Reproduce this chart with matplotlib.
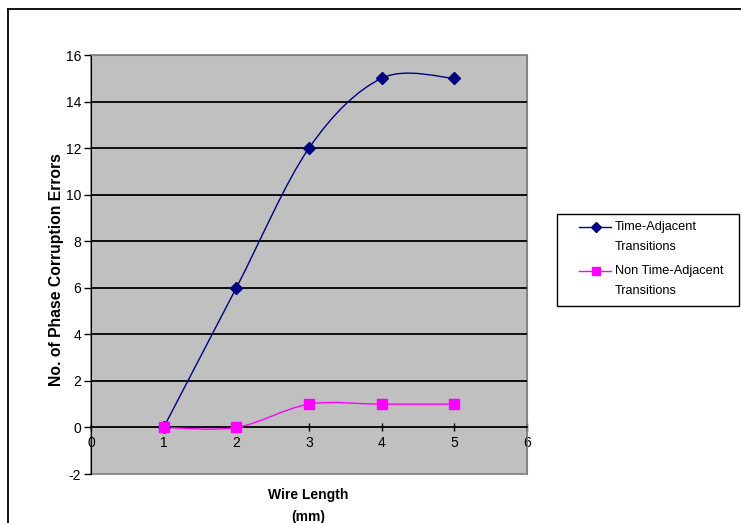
import matplotlib
matplotlib.use("Agg")
import matplotlib.pyplot as plt
from matplotlib.path import Path
from matplotlib.patches import PathPatch, Rectangle
from matplotlib.lines import Line2D
import numpy as np

plt.rcParams['font.family'] = ['Liberation Sans', 'DejaVu Sans']
plt.rcParams['axes.unicode_minus'] = False

wire_length = [1, 2, 3, 4, 5]
time_adjacent = [0, 6, 12, 15, 15]
non_time_adjacent = [0, 0, 1, 1, 1]
x_ticks = [0, 1, 2, 3, 4, 5, 6]
y_ticks = [-2, 0, 2, 4, 6, 8, 10, 12, 14, 16]
series_names = ["Time-Adjacent\nTransitions", "Non Time-Adjacent\nTransitions"]

W, H = 741, 523
fig = plt.figure(figsize=(W / 100, H / 100), dpi=100)
fig.patch.set_facecolor('white')


def fx(px):
    return px / W


def fy(py):
    return 1 - py / H


# figure border (left and top visible)
fig.add_artist(Line2D([fx(8), fx(8)], [0, fy(9)], transform=fig.transFigure, color='black', lw=1.3))
fig.add_artist(Line2D([fx(8), 1], [fy(9), fy(9)], transform=fig.transFigure, color='black', lw=1.3))

left, right, top, bottom = 91, 527, 55, 474
ax = fig.add_axes([fx(left), fy(bottom), (right - left) / W, (bottom - top) / H])
ax.set_facecolor('#C0C0C0')
ax.set_xlim(0, 6)
ax.set_ylim(-2, 16)

for y in y_ticks:
    if -2 < y < 16 and y != 0:
        ax.axhline(y, color='black', lw=1.3, zorder=1)

ax.spines['top'].set_color('#808080')
ax.spines['right'].set_color('#808080')
ax.spines['left'].set_color('black')
ax.spines['bottom'].set_position(('data', 0))
ax.spines['bottom'].set_color('black')
ax.spines['bottom'].set_linewidth(1.3)
ax.add_patch(Rectangle((0, 0), 1, 1, transform=ax.transAxes, fill=False,
                       edgecolor='#808080', lw=1.2, zorder=0.5, clip_on=False))

ax.set_xticks(x_ticks)
ax.set_yticks(y_ticks)
ax.tick_params(axis='y', direction='out', length=5, width=1, labelsize=10, pad=2)
ax.tick_params(axis='x', direction='inout', length=6, width=1, labelsize=10, pad=3)


def smooth_path(xs, ys):
    pts = np.column_stack([xs, ys]).astype(float)
    n = len(pts)
    verts = [pts[0]]
    codes = [Path.MOVETO]
    for i in range(n - 1):
        p0 = pts[max(i - 1, 0)]
        p1 = pts[i]
        p2 = pts[i + 1]
        p3 = pts[min(i + 2, n - 1)]
        c1 = p1 + (p2 - p0) / 6.0
        c2 = p2 - (p3 - p1) / 6.0
        verts += [c1, c2, p2]
        codes += [Path.CURVE4] * 3
    return Path(verts, codes)


blue = '#000080'
magenta = '#FF00FF'
colors = [blue, magenta]
markers = ['D', 's']
msizes = [6, 7]
series = [time_adjacent, non_time_adjacent]

for vals, c, m, ms in zip(series, colors, markers, msizes):
    ax.add_patch(PathPatch(smooth_path(wire_length, vals), fill=False,
                           edgecolor=c, lw=1.0, zorder=3))
    ax.plot(wire_length, vals, linestyle='none', marker=m, markersize=ms,
            color=c, zorder=4, clip_on=False)

fig.text(fx(57), fy(270), "No. of Phase Corruption Errors", rotation=90,
         ha='center', va='center', fontsize=11.3, fontweight='bold')
fig.text(fx(308), fy(495), "Wire Length", ha='center', va='center',
         fontsize=10, fontweight='bold')
fig.text(fx(308), fy(517), "(mm)", ha='center', va='center',
         fontsize=10, fontweight='bold')

# legend drawn manually (Excel style: marker aligned with first text line)
fig.add_artist(Rectangle((fx(557), fy(306)), fx(739) - fx(557), fy(214) - fy(306),
                         transform=fig.transFigure, fill=False,
                         edgecolor='black', lw=1.0))
for i, (name, c, m, ms) in enumerate(zip(series_names, colors, markers, msizes)):
    y0 = 227 + 44 * i
    fig.add_artist(Line2D([fx(579), fx(611)], [fy(y0), fy(y0)],
                          transform=fig.transFigure, color=c, lw=1.0))
    fig.add_artist(Line2D([fx(596)], [fy(y0)], transform=fig.transFigure,
                          color=c, marker=m, markersize=ms - 1, linestyle='none'))
    for j, line in enumerate(name.split("\n")):
        fig.text(fx(615), fy(y0 + 20 * j), line, ha='left', va='center', fontsize=9.2)

fig.savefig("out.png", dpi=100, facecolor='white')
